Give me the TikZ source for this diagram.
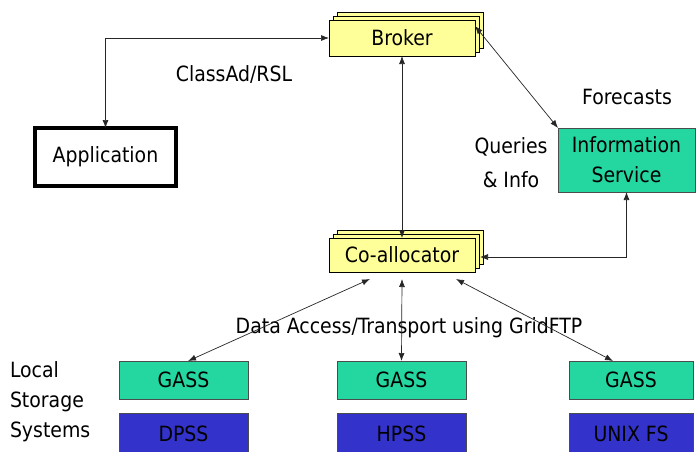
\documentclass[tikz,border=0pt]{standalone}
\usepackage{fontspec}
\setmainfont{DejaVu Sans Condensed}
\usetikzlibrary{arrows.meta,shadows}
\definecolor{byellow}{RGB}{255,255,153}
\definecolor{sgreen}{RGB}{36,214,160}
\definecolor{sblue}{RGB}{51,51,204}
\begin{document}
\begin{tikzpicture}[x=1pt,y=-1pt,
  font=\fontsize{21}{24}\selectfont,
  every node/.style={inner sep=0pt,outer sep=0pt},
  stack/.style={draw=black,line width=0.8pt,fill=byellow,
    double copy shadow={shadow xshift=4pt,shadow yshift=4pt,fill=byellow,draw=black}},
  gbox/.style={draw=black!70,line width=0.8pt,fill=sgreen},
  bbox/.style={draw=black!70,line width=0.8pt,fill=sblue},
  conn/.style={black!85,line width=0.7pt,{Latex[length=8pt,width=6pt]}-{Latex[length=8pt,width=6pt]}},
  lbl/.style={align=center}]
\clip (0,0) rectangle (696,451);
\useasboundingbox (0,0) rectangle (696,451);
\fill[white] (0,0) rectangle (696,451);
% nodes
\node[stack,minimum width=146pt,minimum height=36pt] (broker) at (402,38) {Broker};
\node[stack,minimum width=146pt,minimum height=34pt] (coal) at (402,255) {Co-allocator};
\node[draw=black,line width=4pt,minimum width=141pt,minimum height=58pt] (app) at (105.5,157) {Application};
\node[gbox,minimum width=137pt,minimum height=64pt,lbl] (info) at (626.5,160) {Information\\[6pt]Service};
\node[gbox,minimum width=129pt,minimum height=38pt] (g1) at (183.5,380) {GASS};
\node[gbox,minimum width=129pt,minimum height=38pt] (g2) at (401.5,380) {GASS};
\node[gbox,minimum width=124pt,minimum height=38pt] (g3) at (631,380) {GASS};
\node[bbox,minimum width=129pt,minimum height=42pt] (s1) at (183.5,434) {DPSS};
\node[bbox,minimum width=129pt,minimum height=42pt] (s2) at (401.5,434) {HPSS};
\node[bbox,minimum width=124pt,minimum height=42pt] (s3) at (631,434) {UNIX FS};
% labels
\node (lclass) at (234,74) {ClassAd/RSL};
\node (lfore) at (627,97) {Forecasts};
\node[lbl] (lquery) at (511,163) {Queries\\[10pt]\& Info};
\node (ldata) at (409,328) {Data Access/Transport using GridFTP};
\node[align=left,anchor=west] (llocal) at (10,402) {Local\\[6pt]Storage\\[6pt]Systems};
% connectors
\draw[conn] (app.north) |- (broker.west);
\draw[conn] (broker.south) -- (coal.north);
\draw[conn] ([yshift=12pt]broker.east) -- (info.north west);
\draw[conn] ([xshift=5pt,yshift=-2pt]coal.east) -| (info.south);
\coordinate (c1) at ([xshift=-32pt,yshift=-7pt]coal.south);
\coordinate (c2) at ([yshift=-7pt]coal.south);
\coordinate (c3) at ([xshift=54pt,yshift=-7pt]coal.south);
\draw[conn] (c1) -- ([xshift=4.5pt]g1.north);
\draw[conn] (c2) -- (g2.north);
\draw[conn] (c3) -- ([xshift=-18pt]g3.north);
\end{tikzpicture}
\end{document}
